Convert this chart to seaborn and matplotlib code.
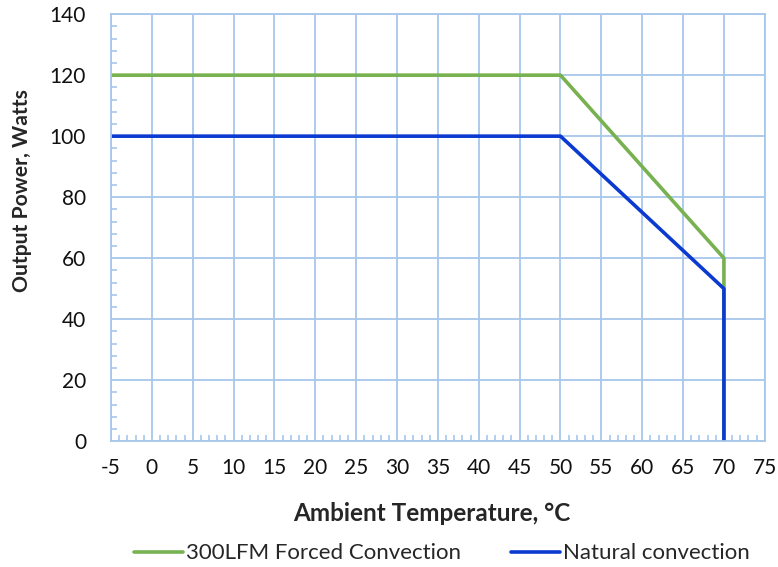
import matplotlib
matplotlib.use("Agg")
import matplotlib.pyplot as plt
import seaborn as sns
import pandas as pd
from matplotlib.ticker import MultipleLocator

forced_temp = [-5, 50, 70, 70]
forced_power = [120, 120, 60, 0]
natural_temp = [-5, 50, 70, 70]
natural_power = [100, 100, 50, 0]
series_names = ["300LFM Forced Convection", "Natural convection"]
colors = ["#77b150", "#0b3ad0"]

df = pd.concat([
    pd.DataFrame({"temp": forced_temp, "power": forced_power, "series": series_names[0]}),
    pd.DataFrame({"temp": natural_temp, "power": natural_power, "series": series_names[1]}),
])

sns.set_style("white")
plt.rcParams["font.family"] = ["Lato", "DejaVu Sans"]
plt.rcParams["axes.unicode_minus"] = False

fig = plt.figure(figsize=(7.78, 5.67), dpi=100)
ax = fig.add_axes([0.1427, 0.222, 0.8403, 0.753])

sns.lineplot(data=df, x="temp", y="power", hue="series", palette=colors,
             sort=False, estimator=None, linewidth=2.6, ax=ax)

ax.set_xlim(-5, 75)
ax.set_ylim(0, 140)
ax.xaxis.set_major_locator(MultipleLocator(5))
ax.xaxis.set_minor_locator(MultipleLocator(1))
ax.yaxis.set_major_locator(MultipleLocator(20))
ax.yaxis.set_minor_locator(MultipleLocator(4))
grid_c = "#a7c7eb"
ax.grid(True, which="major", color=grid_c, linewidth=1.3)
ax.set_axisbelow(True)
for s in ax.spines.values():
    s.set_color(grid_c)
    s.set_linewidth(1.3)
ax.tick_params(bottom=True, left=True, which="both")
ax.tick_params(axis="both", which="major", length=0, labelsize=15, colors="#111111")
ax.tick_params(axis="both", which="minor", direction="in", length=4, width=1.2, color=grid_c)
ax.tick_params(axis="x", which="major", pad=12)
ax.tick_params(axis="y", which="major", pad=18)
ax.set_xlabel("Ambient Temperature, °C", fontsize=17.5, fontweight="bold", labelpad=16)
ax.xaxis.set_label_coords(0.491, -0.143)
ax.set_ylabel("Output Power, Watts", fontsize=15.2, fontweight="bold")
ax.yaxis.set_label_coords(-0.121, 0.588)

handles, labels = ax.get_legend_handles_labels()
ax.legend(handles, labels, loc="lower center", bbox_to_anchor=(0.506, -0.333),
          ncol=2, frameon=False, fontsize=16, handlelength=2.2, handletextpad=0.15,
          columnspacing=2.25)

fig.savefig("out.png", dpi=100)
